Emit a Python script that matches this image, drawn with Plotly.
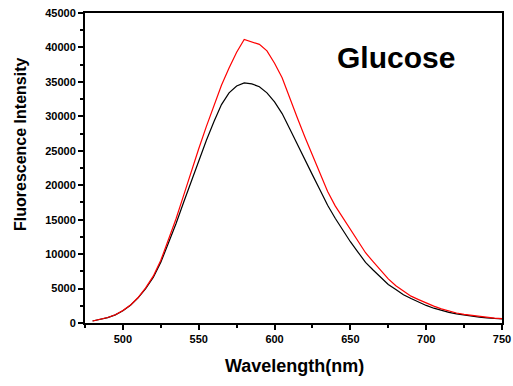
import plotly.graph_objects as go

wavelength = [480, 485, 490, 495, 500, 505, 510, 515, 520, 525, 530, 535, 540, 545, 550,
              555, 560, 565, 570, 575, 580, 585, 590, 595, 600, 605, 610, 615, 620, 625,
              630, 635, 640, 645, 650, 655, 660, 665, 670, 675, 680, 685, 690, 695, 700,
              705, 710, 715, 720, 725, 730, 735, 740, 745, 750]

red_intensity = [290, 500, 800, 1200, 1800, 2600, 3700, 5100, 6800, 9100, 12100, 15100, 18500,
                 22000, 25300, 28500, 31500, 34500, 37000, 39300, 41150, 40850, 40450, 39500,
                 37700, 35600, 32600, 29800, 27000, 24400, 21800, 19100, 17000, 15300, 13600,
                 11800, 10200, 8900, 7600, 6400, 5400, 4600, 3900, 3400, 2900, 2450, 2050, 1700,
                 1450, 1250, 1100, 950, 820, 720, 630]

black_intensity = [290, 490, 790, 1180, 1780, 2580, 3650, 5000, 6600, 8800, 11500, 14400, 17500,
                   20600, 23600, 26500, 29200, 31700, 33400, 34400, 34850, 34700, 34300, 33400,
                   32100, 30400, 28200, 25900, 23800, 21500, 19300, 17100, 15200, 13500, 11800,
                   10300, 8800, 7700, 6600, 5600, 4850, 4100, 3550, 3000, 2550, 2150, 1800, 1550,
                   1320, 1130, 980, 860, 750, 660, 580]

x_ticks = [500, 550, 600, 650, 700, 750]
y_ticks = [0, 5000, 10000, 15000, 20000, 25000, 30000, 35000, 40000, 45000]

FONT = "Liberation Sans, Arial, sans-serif"

fig = go.Figure()
fig.add_trace(go.Scatter(x=wavelength, y=black_intensity, mode="lines",
                         line=dict(color="black", width=1.2), showlegend=False))
fig.add_trace(go.Scatter(x=wavelength, y=red_intensity, mode="lines",
                         line=dict(color="red", width=1.2), showlegend=False))

axis_common = dict(
    showgrid=False, zeroline=False, showline=True, linecolor="black", linewidth=2,
    mirror=True, ticks="outside", ticklen=5, tickwidth=1.5, tickcolor="black",
    automargin=False,
    tickfont=dict(family=FONT, size=11, color="black", weight="bold"),
)

fig.update_xaxes(range=[475, 750], tickvals=x_ticks, ticktext=[str(v) for v in x_ticks],
                 minor=dict(dtick=25, tick0=475, ticks="outside", ticklen=3, tickwidth=1.5,
                            tickcolor="black"),
                 **axis_common)
fig.update_yaxes(range=[0, 45000], tickvals=y_ticks, ticktext=[str(v) for v in y_ticks],
                 minor=dict(dtick=2500, ticks="outside", ticklen=3, tickwidth=1.5,
                            tickcolor="black"),
                 **axis_common)

fig.update_layout(
    width=513, height=386,
    margin=dict(l=85, r=11, t=13, b=63),
    paper_bgcolor="white", plot_bgcolor="white",
    annotations=[
        dict(text="Glucose", xref="paper", yref="paper", x=(396 - 85) / 417, y=(323 - 58) / 310,
             xanchor="center", yanchor="middle", showarrow=False,
             font=dict(family=FONT, size=30, color="black", weight="bold")),
        dict(text="Wavelength(nm)", xref="paper", yref="paper", x=(294 - 85) / 417,
             y=-(366 - 323) / 310, xanchor="center", yanchor="middle", showarrow=False,
             font=dict(family=FONT, size=18, color="black", weight="bold")),
        dict(text="Fluorescence Intensity", xref="paper", yref="paper", x=-(85 - 20) / 417,
             y=(323 - 145) / 310, xanchor="center", yanchor="middle", showarrow=False,
             textangle=-90,
             font=dict(family=FONT, size=16, color="black", weight="bold")),
    ],
)

fig.write_html("out.html")
